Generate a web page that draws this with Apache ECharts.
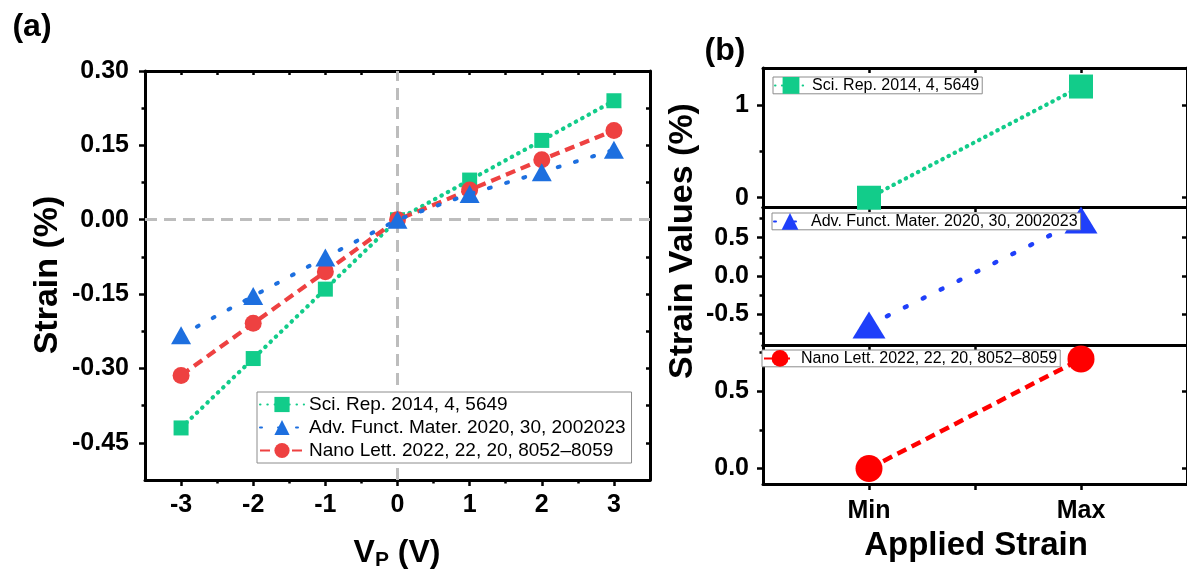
<!DOCTYPE html>
<html>
<head>
<meta charset="utf-8">
<title>Strain comparison</title>
<script src="https://cdn.jsdelivr.net/npm/echarts@6.0.0/dist/echarts.min.js"></script>
<style>
  html, body { margin: 0; padding: 0; background: #fff; }
  #chart { width: 1187px; height: 571px; }
</style>
</head>
<body>
<div id="chart"></div>
<script>
// panel (a): strain against piezo voltage
const voltages = [-3, -2, -1, 0, 1, 2, 3];
const strainSciRep = [-0.42, -0.28, -0.14, 0, 0.08, 0.16, 0.24];
const strainAdvFunct = [-0.233, -0.154, -0.076, 0, 0.052, 0.096, 0.141];
const strainNanoLett = [-0.314, -0.209, -0.105, 0, 0.06, 0.121, 0.18];

// panel (b): min / max strain of each report
const strainLevels = ['Min', 'Max'];
const rangeSciRep = [0, 1.2];
const rangeAdvFunct = [-0.64, 0.73];
const rangeNanoLett = [0, 0.71];

const refNames = [
  'Sci. Rep. 2014, 4, 5649',
  'Adv. Funct. Mater. 2020, 30, 2002023',
  'Nano Lett. 2022, 22, 20, 8052–8059'
];

// ticks
const aTicksX = [-3, -2, -1, 0, 1, 2, 3];
const aMinorX = [-2.5, -1.5, -0.5, 0.5, 1.5, 2.5];
const aTicksY = [-0.45, -0.3, -0.15, 0, 0.15, 0.3];
const aMinorY = [-0.375, -0.225, -0.075, 0.075, 0.225];
const bTicksX = [0, 0.5, 1];
const b1TicksY = [0, 1];
const b1MinorY = [0.5];
const b2TicksY = [-0.5, 0, 0.5];
const b2MinorY = [-0.75, -0.25, 0.25, 0.75];
const b3TicksY = [0, 0.5];
const b3MinorY = [0.25, 0.75];

const GREEN = '#12CC8A';
const BLUE_A = '#1D6FDF';
const RED_A = '#EE4141';
const BLUE_B = '#1F3FFA';
const RED_B = '#FF0000';
const FONT = '"Liberation Sans", Arial, sans-serif';

const chart = echarts.init(document.getElementById('chart'));

const tickStyle = { color: '#000', width: 2.5 };

function axis(gridIndex, position, min, max, o) {
  return {
    type: 'value',
    gridIndex: gridIndex,
    position: position,
    min: min,
    max: max,
    axisLine: o.line ? { show: true, onZero: false, lineStyle: { color: '#000', width: 3 } } : { show: false, onZero: false },
    axisTick: o.ticks
      ? { show: true, inside: !!o.inside, length: o.len || 6, lineStyle: tickStyle, customValues: o.ticks }
      : { show: false },
    axisLabel: o.labels
      ? {
          show: true, customValues: o.labels, formatter: o.fmt, margin: o.margin || 14,
          fontFamily: FONT, fontSize: 25, fontWeight: 'bold', color: '#000'
        }
      : { show: false },
    splitLine: { show: false },
    minorTick: { show: false }
  };
}

const levelIdx = strainLevels.map((_, i) => i);
const xAxes = [
  axis(0, 'bottom', -3.5, 3.5, { line: true, ticks: aTicksX, len: 6, labels: aTicksX, fmt: v => String(v), margin: 13 }),
  axis(0, 'bottom', -3.5, 3.5, { ticks: aMinorX, len: 3.5 }),
  axis(0, 'top', -3.5, 3.5, { line: true, ticks: aTicksX.concat(aMinorX), inside: true, len: 4 }),
  axis(1, 'bottom', -0.5, 1.5, { line: true }),
  axis(1, 'top', -0.5, 1.5, { line: true, ticks: bTicksX, inside: true, len: 5 }),
  axis(2, 'bottom', -0.5, 1.5, { line: true }),
  axis(2, 'top', -0.5, 1.5, { line: true, ticks: bTicksX, inside: true, len: 5 }),
  axis(3, 'bottom', -0.5, 1.5, { line: true, ticks: bTicksX, len: 6, labels: levelIdx, fmt: v => strainLevels[v], margin: 15 }),
  axis(3, 'top', -0.5, 1.5, { line: true, ticks: bTicksX, inside: true, len: 5 })
];

const yAxes = [
  axis(0, 'left', -0.525, 0.3, { line: true, ticks: aTicksY, len: 6, labels: aTicksY, fmt: v => v.toFixed(2), margin: 16 }),
  axis(0, 'left', -0.525, 0.3, { ticks: aMinorY, len: 3.5 }),
  axis(0, 'right', -0.525, 0.3, { line: true, ticks: aTicksY.concat(aMinorY), inside: true, len: 4 }),

  axis(1, 'left', -0.1, 1.4, { line: true, ticks: b1TicksY, len: 6, labels: b1TicksY, fmt: v => String(v) }),
  axis(1, 'left', -0.1, 1.4, { ticks: b1MinorY, len: 3.5 }),
  axis(1, 'right', -0.1, 1.4, { line: true, ticks: b1TicksY, inside: true, len: 5 }),

  axis(2, 'left', -0.9, 0.9, { line: true, ticks: b2TicksY, len: 6, labels: b2TicksY, fmt: v => v.toFixed(1) }),
  axis(2, 'left', -0.9, 0.9, { ticks: b2MinorY, len: 3.5 }),
  axis(2, 'right', -0.9, 0.9, { line: true, ticks: b2TicksY, inside: true, len: 5 }),

  axis(3, 'left', -0.1, 0.8, { line: true, ticks: b3TicksY, len: 6, labels: b3TicksY, fmt: v => v.toFixed(1) }),
  axis(3, 'left', -0.1, 0.8, { ticks: b3MinorY, len: 3.5 }),
  axis(3, 'right', -0.1, 0.8, { line: true, ticks: b3TicksY, inside: true, len: 5 })
];

function pairs(xs, ys) {
  return xs.map((x, i) => [x, ys[i]]);
}

const dotted = (w, gap) => ({ width: w, type: [0.5, gap], cap: 'round' });
const dashed = (w, d, gap) => ({ width: w, type: [d, gap], cap: 'butt' });

function lineSeries(name, xi, yi, data, symbol, size, color, line, z) {
  return {
    name: name, type: 'line', xAxisIndex: xi, yAxisIndex: yi, data: data,
    symbol: symbol, symbolSize: size, showAllSymbol: true,
    itemStyle: { color: color, opacity: 1 },
    lineStyle: Object.assign({ color: color }, line),
    emphasis: { disabled: true },
    z: z
  };
}

const bName = n => 'b|' + n;

const series = [
  {
    name: 'zero lines', type: 'line', data: [], xAxisIndex: 0, yAxisIndex: 0, silent: true, z: 1,
    markLine: {
      z: 1, silent: true, symbol: ['none', 'none'], label: { show: false },
      lineStyle: { color: '#BDBDBD', width: 3, type: [12, 7] },
      emphasis: { disabled: true },
      data: [{ yAxis: 0 }, { xAxis: 0 }]
    }
  },
  lineSeries(refNames[0], 0, 0, pairs(voltages, strainSciRep), 'rect', 15, GREEN, dotted(4.2, 6.8), 3),
  lineSeries(refNames[2], 0, 0, pairs(voltages, strainNanoLett), 'circle', 17, RED_A, dashed(4.2, 10, 6), 4),
  lineSeries(refNames[1], 0, 0, pairs(voltages, strainAdvFunct), 'triangle', [20, 18], BLUE_A, { width: 4, type: [2, 16], cap: 'round' }, 5),

  lineSeries(bName(refNames[0]), 3, 3, pairs(levelIdx, rangeSciRep), 'rect', 24, GREEN, dotted(4.2, 6.4), 3),
  lineSeries(bName(refNames[1]), 5, 6, pairs(levelIdx, rangeAdvFunct), 'triangle', [33, 27], BLUE_B, { width: 4.5, type: [2, 18], cap: 'round' }, 3),
  lineSeries(bName(refNames[2]), 7, 9, pairs(levelIdx, rangeNanoLett), 'circle', 27, RED_B, dashed(4.5, 10, 6), 3)
];

const legendText = { fontFamily: FONT, color: '#000' };
function bLegend(name, left, top) {
  return {
    data: [name], left: left, top: top, orient: 'vertical', selectedMode: false,
    itemWidth: 32, itemHeight: 21, padding: [0, 3, 0, 1],
    borderColor: '#8c8c8c', borderWidth: 1, backgroundColor: '#fff',
    formatter: n => n.slice(2),
    textStyle: Object.assign({ fontSize: 16 }, legendText)
  };
}

const boldText = (size) => ({ fontFamily: FONT, fontWeight: 'bold', fontSize: size, fill: '#000' });
function label(x, y, text, size, rotation) {
  return {
    type: 'text', x: x, y: y, rotation: rotation || 0, silent: true,
    style: Object.assign({ text: text, align: 'center', verticalAlign: 'middle', textAlign: 'center', textVerticalAlign: 'middle' }, boldText(size))
  };
}

const option = {
  animation: false,
  backgroundColor: '#fff',
  grid: [
    { left: 145, top: 71, width: 505, height: 409 },
    { left: 763, top: 68, width: 427, height: 139 },
    { left: 763, top: 207, width: 427, height: 138 },
    { left: 763, top: 345, width: 427, height: 139 }
  ],
  xAxis: xAxes,
  yAxis: yAxes,
  legend: [
    {
      data: refNames, left: 257, top: 392, orient: 'vertical', selectedMode: false,
      itemWidth: 44, itemHeight: 19, itemGap: 4, padding: [3, 6, 3, 2],
      borderColor: '#8c8c8c', borderWidth: 1, backgroundColor: '#fff',
      textStyle: Object.assign({ fontSize: 19 }, legendText)
    },
    bLegend(bName(refNames[0]), 773, 77),
    bLegend(bName(refNames[1]), 772, 213),
    bLegend(bName(refNames[2]), 762, 350)
  ],
  series: series,
  graphic: [
    label(32, 27, '(a)', 32),
    label(725, 51, '(b)', 32),
    label(48, 275, 'Strain (%)', 34, Math.PI / 2),
    label(683, 241, 'Strain Values (%)', 34, Math.PI / 2),
    label(976, 546, 'Applied Strain', 33),
    {
      type: 'text', x: 397, y: 553, silent: true,
      style: {
        text: '{v|V}{s|P}{v| (V)}', align: 'center', verticalAlign: 'middle', textAlign: 'center', textVerticalAlign: 'middle',
        fontFamily: FONT, fontWeight: 'bold', fill: '#000',
        rich: {
          v: { fontFamily: FONT, fontWeight: 'bold', fontSize: 32, lineHeight: 36, fill: '#000' },
          s: { fontFamily: FONT, fontWeight: 'bold', fontSize: 21, lineHeight: 21, verticalAlign: 'bottom', fill: '#000' }
        }
      }
    }
  ]
};

chart.setOption(option);
</script>
</body>
</html>
